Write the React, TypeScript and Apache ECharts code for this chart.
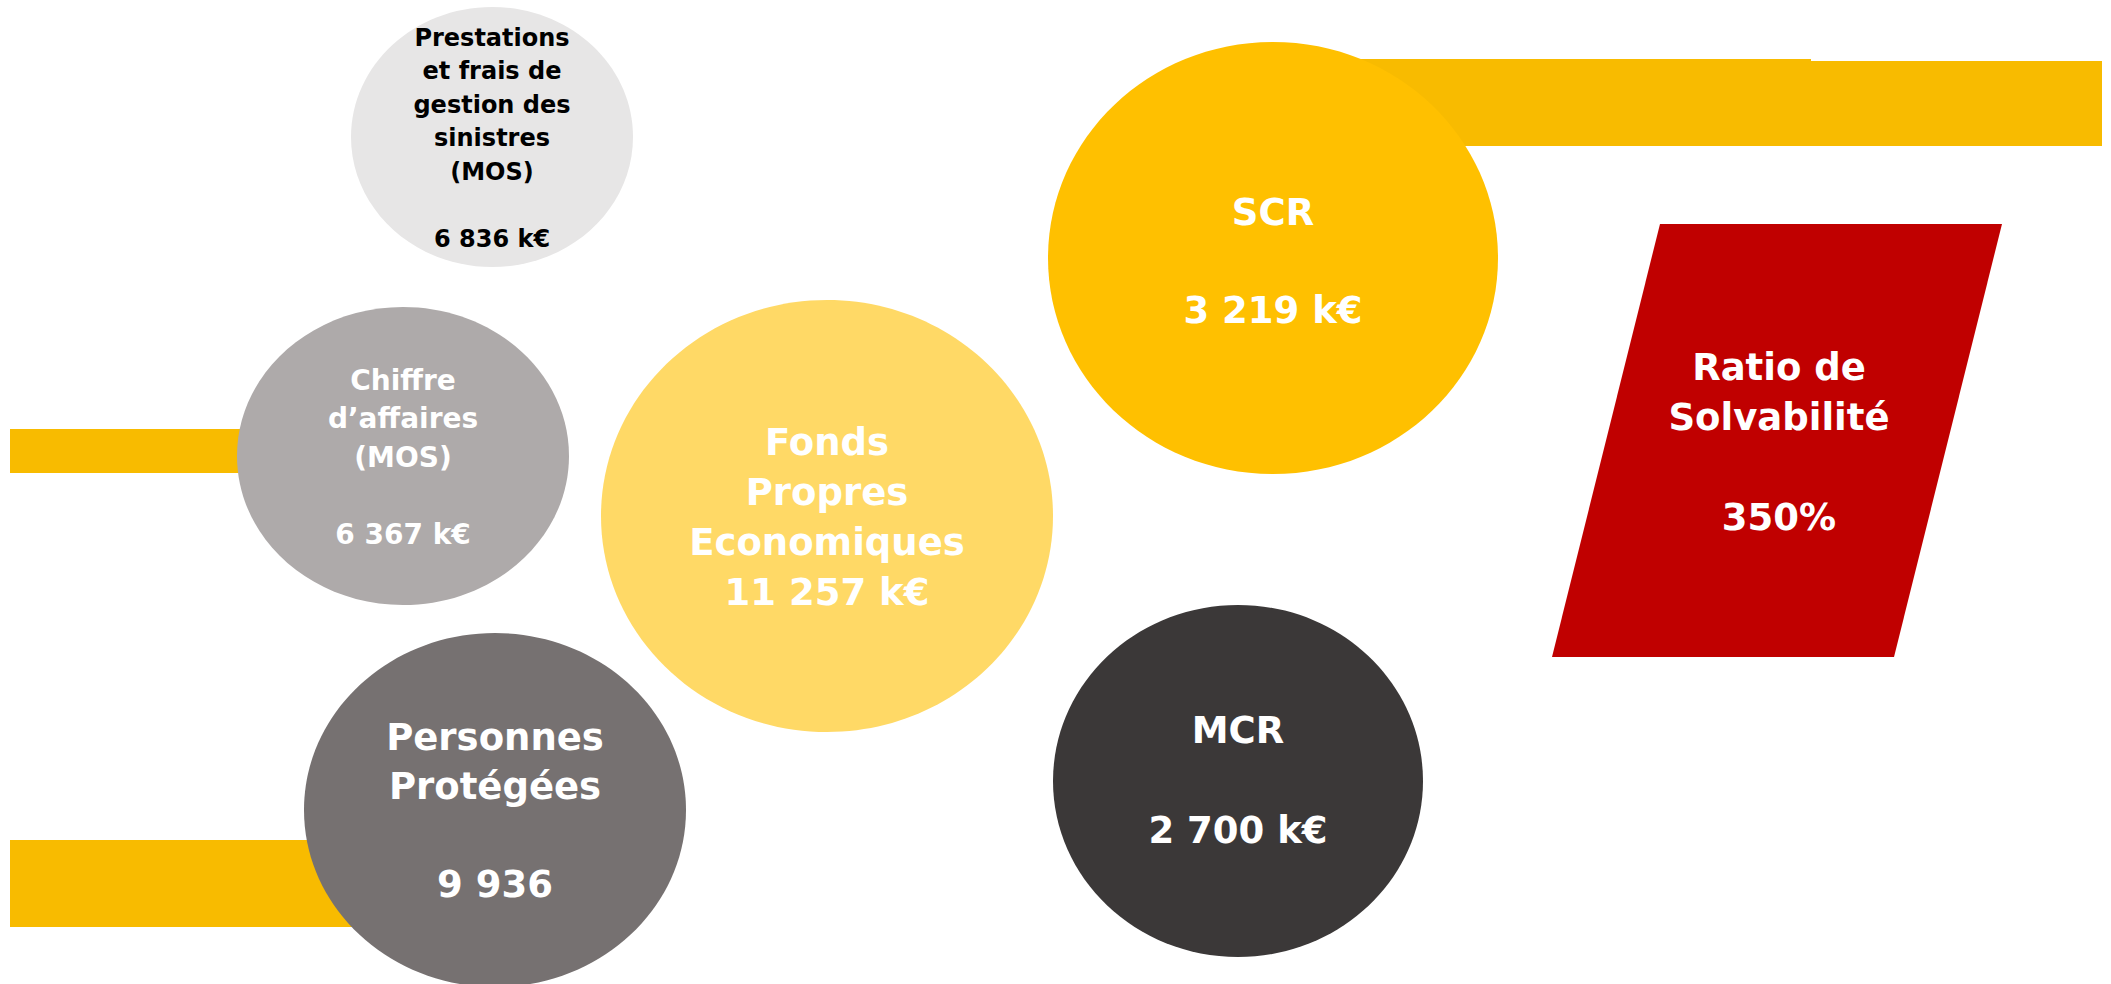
import React, { useEffect, useRef } from "react";
import * as echarts from "echarts";

// ---- Data ----
const labels = [
  "Prestations\net frais de\ngestion des\nsinistres\n(MOS)",
  "Chiffre\nd’affaires\n(MOS)",
  "Fonds\nPropres\nEconomiques",
  "Personnes\nProtégées",
  "SCR",
  "MCR",
  "Ratio de\nSolvabilité",
];
const values = ["6 836 k€", "6 367 k€", "11 257 k€", "9 936", "3 219 k€", "2 700 k€", "350%"];
const gaps = ["\n\n", "\n\n", "\n", "\n\n", "\n\n", "\n\n", "\n\n"];

// ---- Layout (positions / styles) ----
const bubbles = [
  { cx: 492, cy: 137, rx: 141, ry: 130, fill: "#e7e6e6", color: "#000000", size: 24, lh: 33.5, ty: 138 },
  { cx: 403, cy: 456, rx: 166, ry: 149, fill: "#aeaaaa", color: "#ffffff", size: 28, lh: 38.5, ty: 457 },
  { cx: 827, cy: 516, rx: 226, ry: 216, fill: "#ffd966", color: "#ffffff", size: 37, lh: 50, ty: 517 },
  { cx: 495, cy: 810, rx: 191, ry: 177, fill: "#767171", color: "#ffffff", size: 37, lh: 49, ty: 811 },
  { cx: 1273, cy: 258, rx: 225, ry: 216, fill: "#ffc000", color: "#ffffff", size: 37, lh: 49, ty: 261 },
  { cx: 1238, cy: 781, rx: 185, ry: 176, fill: "#3b3838", color: "#ffffff", size: 37, lh: 50, ty: 780 },
];
const ratioShape = [[1660, 224], [2002, 224], [1894, 657], [1552, 657]];
const ratioText = { x: 1779, y: 442, size: 37, lh: 50 };
const barColor = "#f8bb00";
const bars = [
  { x: 1280, y: 59, w: 531, h: 87 },
  { x: 1811, y: 61, w: 291, h: 85 },
  { x: 10, y: 429, w: 290, h: 44 },
  { x: 10, y: 840, w: 390, h: 87 },
];
const FONT = "'DejaVu Sans', Verdana, sans-serif";

export default function App() {
  const ref = useRef<HTMLDivElement>(null);
  useEffect(() => {
    if (!ref.current) return;
    const chart = echarts.init(ref.current, null, { renderer: "svg" });
    const elements: any[] = [];
    bars.forEach((b, i) => {
      elements.push({
        type: "rect",
        id: "bar" + i,
        shape: { x: b.x, y: b.y, width: b.w, height: b.h },
        style: { fill: barColor },
        z: 1,
      });
    });
    bubbles.forEach((b, i) => {
      elements.push({
        type: "ellipse",
        id: "ell" + i,
        shape: { cx: b.cx, cy: b.cy, rx: b.rx, ry: b.ry },
        style: { fill: b.fill },
        z: 2,
      });
      elements.push({
        type: "text",
        id: "txt" + i,
        x: b.cx,
        y: b.ty,
        z: 3,
        style: {
          text: labels[i] + gaps[i] + values[i],
          fill: b.color,
          fontSize: b.size,
          fontWeight: "bold",
          fontFamily: FONT,
          lineHeight: b.lh,
          align: "center",
          verticalAlign: "middle",
        },
      });
    });
    elements.push({
      type: "polygon",
      id: "ratio",
      shape: { points: ratioShape },
      style: { fill: "#c00000" },
      z: 2,
    });
    elements.push({
      type: "text",
      id: "ratioTxt",
      x: ratioText.x,
      y: ratioText.y,
      z: 3,
      style: {
        text: labels[6] + gaps[6] + values[6],
        fill: "#ffffff",
        fontSize: ratioText.size,
        fontWeight: "bold",
        fontFamily: FONT,
        lineHeight: ratioText.lh,
        align: "center",
        verticalAlign: "middle",
      },
    });
    chart.setOption({
      animation: false,
      backgroundColor: "#ffffff",
      graphic: { elements },
    });
    return () => chart.dispose();
  }, []);
  return (
    <div
      ref={ref}
      style={{ position: "fixed", left: 0, top: 0, width: 2111, height: 984 }}
    />
  );
}
